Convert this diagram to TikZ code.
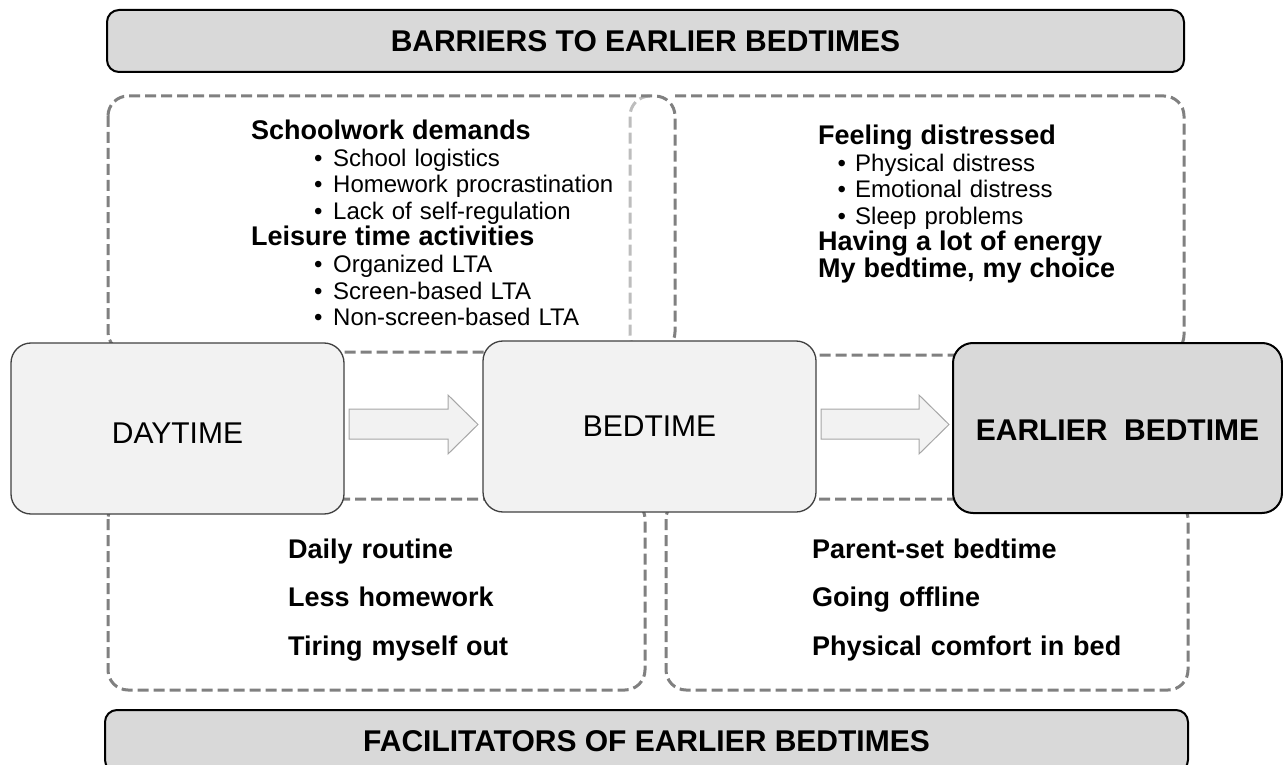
\documentclass[tikz,border=0pt]{standalone}
\usepackage{fontspec}
\setmainfont{Liberation Sans}

\definecolor{barfill}{HTML}{D9D9D9}
\definecolor{stagefill}{HTML}{F2F2F2}
\definecolor{stageline}{HTML}{404040}
\definecolor{dashgray}{HTML}{808080}
\definecolor{dashlight}{HTML}{BDBDBD}
\definecolor{arrowline}{HTML}{A6A6A6}

% bullet line: indent, bullet box width, text
\newcommand\bitem[3]{\hspace*{#1}\makebox[#2][l]{\textbullet}#3}

\tikzset{
  bar/.style={draw=black, line width=2pt, fill=barfill, rounded corners=12pt,
    inner sep=0pt, font=\fontsize{30}{36}\selectfont\bfseries},
  stage/.style={draw=stageline, line width=1.3pt, fill=stagefill, rounded corners=20pt,
    inner sep=0pt, font=\fontsize{30}{36}\selectfont},
  goal/.style={stage, draw=black, line width=2pt, fill=barfill,
    font=\fontsize{30}{36}\selectfont\bfseries},
  group/.style={draw=dashgray, line width=3pt, dash pattern=on 11pt off 5pt, rounded corners=20pt},
  grouplight/.style={group, draw=dashlight},
  flow/.style={draw=arrowline, line width=1pt, fill=stagefill, line join=miter},
  listtext/.style={anchor=base west, inner sep=0pt, text width=420pt, align=left},
  factfont/.style={font=\fontsize{27}{48.5}\selectfont\bfseries},
}

\begin{document}
\begin{tikzpicture}[x=1pt, y=-1pt]
  \clip (0,0) rectangle (1283,765);
  \useasboundingbox (0,0) rectangle (1283,765);

  % dashed group frames (barriers above, facilitators below)
  \draw[group] (675,96) -- (1184,96) -- (1184,355) -- (650,355);
  \draw[grouplight] (650,96) -- (630,96) -- (630,355) -- (650,355);
  \draw[group] (108,96) rectangle (675,352);
  \draw[group] (108,499) rectangle (645,690);
  \draw[group] (666,499) rectangle (1188,690);

  % title bars
  \node[bar, minimum width=1077pt, minimum height=62pt] (barriers) at (645.5,41)
    {BARRIERS TO EARLIER BEDTIMES};
  \node[bar, minimum width=1083pt, minimum height=62pt] (facilitators) at (646.5,741)
    {FACILITATORS OF EARLIER BEDTIMES};

  % stages
  \node[stage, minimum width=333pt, minimum height=171pt, text height=30.5pt, text depth=0pt]
    (day) at (177.5,428.5) {DAYTIME};
  \node[stage, minimum width=333pt, minimum height=171pt] (bed) at (649.5,426.5) {BEDTIME};
  \node[goal, minimum width=329pt, minimum height=170pt, text height=25.5pt, text depth=0pt]
    (early) at (1117.5,428) {EARLIER\ \ BEDTIME};

  % block arrows between the stages
  \draw[flow] (349,409) -- (448,409) -- (448,395) -- (478,424.5) -- (448,454) -- (448,439) -- (349,439) -- cycle;
  \draw[flow] (821,409) -- (919,409) -- (919,395) -- (949,424.5) -- (919,454) -- (919,439) -- (821,439) -- cycle;

  % barriers during the day
  \node[listtext, font=\fontsize{24}{26.6}\selectfont] (daybarriers) at (251,139.5) {%
    {\fontsize{27}{26.6}\selectfont\bfseries Schoolwork demands}\\
    \bitem{63pt}{19pt}{School logistics}\\
    \bitem{63pt}{19pt}{Homework procrastination}\\
    \bitem{63pt}{19pt}{Lack of self-regulation}\\
    {\fontsize{27}{26.6}\selectfont\bfseries Leisure time activities}\\
    \bitem{63pt}{19pt}{Organized LTA}\\
    \bitem{63pt}{19pt}{Screen-based LTA}\\
    \bitem{63pt}{19pt}{Non-screen-based LTA}};

  % barriers at bedtime
  \node[listtext, font=\fontsize{24}{26.6}\selectfont] (bedbarriers) at (818,144.5) {%
    {\fontsize{27}{26.6}\selectfont\bfseries Feeling distressed}\\
    \bitem{19.5pt}{17.5pt}{Physical distress}\\
    \bitem{19.5pt}{17.5pt}{Emotional distress}\\
    \bitem{19.5pt}{17.5pt}{Sleep problems}\\
    {\fontsize{27}{26.6}\selectfont\bfseries Having a lot of energy}\\
    {\fontsize{27}{26.6}\selectfont\bfseries My bedtime, my choice}};

  % facilitators
  \node[listtext, factfont] (dayfacilitators) at (288,558) {%
    Daily routine\\ Less homework\\ Tiring myself out};
  \node[listtext, factfont] (bedfacilitators) at (812,558) {%
    Parent-set bedtime\\ Going offline\\ Physical comfort in bed};
\end{tikzpicture}
\end{document}
